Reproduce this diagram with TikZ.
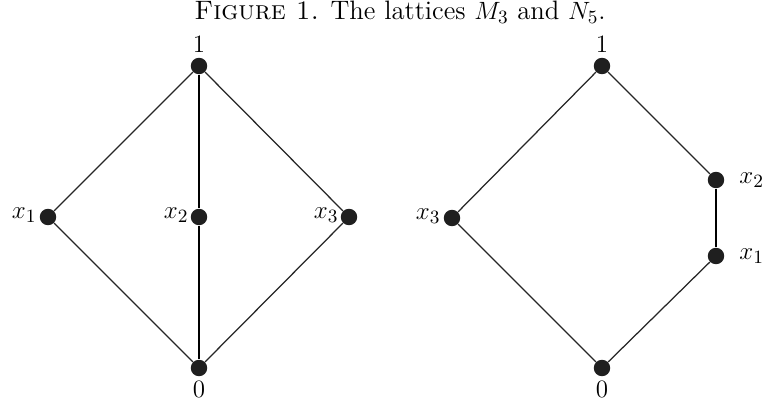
\documentclass[tikz,border=0pt]{standalone}
\begin{document}
\begin{tikzpicture}[x=0.48pt,y=-0.48pt,
  dot/.style={circle,fill=black!88,inner sep=0pt,minimum size=7.9pt},
  thin edge/.style={line width=0.6pt,black!85},
  thick edge/.style={line width=1.2pt,black},
  lab/.style={inner sep=0pt,font=\fontsize{12.8}{15}\selectfont}]
\useasboundingbox (0,0) rectangle (764,407);
\node[lab] (title) at (400,12) {\textsc{Figure 1.} The lattices $M_3$ and $N_5$.};
% M3
\node[dot] (a1) at (199,66) {};
\node[dot] (ax1) at (48,217) {};
\node[dot] (ax2) at (199,217) {};
\node[dot] (ax3) at (349,217) {};
\node[dot] (a0) at (199,368) {};
\draw[thin edge] (a1) -- (ax1) -- (a0);
\draw[thin edge] (a1) -- (ax3) -- (a0);
\draw[thick edge] (a1) -- (ax2) -- (a0);
\node[lab,anchor=south] (la1) at (199,53) {$1$};
\node[lab,anchor=north] (la0) at (199,381) {$0$};
\node[lab,anchor=east] (lax1) at (37,215) {$x_1$};
\node[lab,anchor=east] (lax2) at (189,215) {$x_2$};
\node[lab,anchor=east] (lax3) at (339,215) {$x_3$};
% N5
\node[dot] (b1) at (602,66) {};
\node[dot] (bx3) at (452,218) {};
\node[dot] (bx2) at (716,180) {};
\node[dot] (bx1) at (716,256) {};
\node[dot] (b0) at (602,368) {};
\draw[thin edge] (b1) -- (bx3) -- (b0);
\draw[thin edge] (b1) -- (bx2);
\draw[thin edge] (bx1) -- (b0);
\draw[thick edge] (bx2) -- (bx1);
\node[lab,anchor=south] (lb1) at (602,53) {$1$};
\node[lab,anchor=north] (lb0) at (602,381) {$0$};
\node[lab,anchor=east] (lbx3) at (441,216) {$x_3$};
\node[lab,anchor=west] (lbx2) at (739,180) {$x_2$};
\node[lab,anchor=west] (lbx1) at (739,256) {$x_1$};
\end{tikzpicture}
\end{document}
